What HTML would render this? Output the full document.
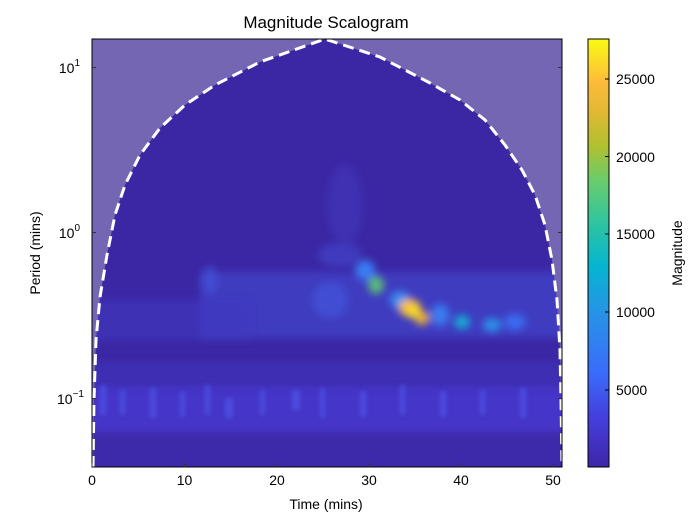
<!DOCTYPE html>
<html><head><meta charset="utf-8"><style>
html,body{margin:0;padding:0;background:#fff;}
svg{display:block;font-family:"Liberation Sans","DejaVu Sans",sans-serif;}
</style></head><body>
<svg width="700" height="525" viewBox="0 0 700 525" xmlns="http://www.w3.org/2000/svg">
<defs>
<linearGradient id="parula" x1="0" y1="1" x2="0" y2="0">
<stop offset="0" stop-color="#3e26a8"/>
<stop offset="0.12" stop-color="#4440df"/>
<stop offset="0.22" stop-color="#3a6cfb"/>
<stop offset="0.35" stop-color="#2990e8"/>
<stop offset="0.47" stop-color="#05b5d0"/>
<stop offset="0.57" stop-color="#2fc4a0"/>
<stop offset="0.67" stop-color="#6acc6a"/>
<stop offset="0.75" stop-color="#b0c030"/>
<stop offset="0.83" stop-color="#e2b833"/>
<stop offset="0.9" stop-color="#fdbb3a"/>
<stop offset="1" stop-color="#f9fb14"/>
</linearGradient>
<filter id="bl" x="-50%" y="-50%" width="200%" height="200%"><feGaussianBlur stdDeviation="4"/></filter>
<filter id="bl2" x="-50%" y="-50%" width="200%" height="200%"><feGaussianBlur stdDeviation="2"/></filter>
<clipPath id="pc"><rect x="92" y="39" width="470" height="428"/></clipPath>
</defs>
<text x="326" y="28" font-size="17" text-anchor="middle" fill="#000">Magnitude Scalogram</text>
<g clip-path="url(#pc)">
<rect x="92" y="39" width="470" height="428" fill="#3b27a4"/>
<rect x="60" y="380" width="540" height="55" fill="#4436c8" filter="url(#bl)"/>
<rect x="60" y="362" width="540" height="25" fill="#3e2db4" filter="url(#bl)"/>
<rect x="60" y="435" width="540" height="40" fill="#3c2aab" filter="url(#bl)"/>
<g filter="url(#bl2)" fill="#4d56e8" opacity="0.7">
<rect x="100" y="385" width="6" height="30"/><rect x="120" y="390" width="5" height="25"/>
<rect x="150" y="388" width="6" height="30"/><rect x="180" y="392" width="5" height="25"/>
<rect x="205" y="385" width="5" height="30"/><rect x="225" y="398" width="8" height="20"/>
<rect x="260" y="390" width="5" height="25"/><rect x="292" y="390" width="8" height="20"/>
<rect x="320" y="388" width="5" height="30"/><rect x="360" y="392" width="6" height="25"/>
<rect x="400" y="385" width="5" height="30"/><rect x="440" y="392" width="6" height="25"/>
<rect x="480" y="390" width="5" height="25"/><rect x="520" y="388" width="6" height="30"/>
</g>
<rect x="200" y="272" width="380" height="66" fill="#4344cc" filter="url(#bl)" opacity="0.7"/>
<rect x="80" y="300" width="170" height="40" fill="#4138c0" filter="url(#bl)" opacity="0.6"/>
<ellipse cx="345" cy="205" rx="18" ry="40" fill="#4540c8" filter="url(#bl)" opacity="0.4"/>
<ellipse cx="340" cy="255" rx="22" ry="12" fill="#4550d8" filter="url(#bl)" opacity="0.5"/>
<g filter="url(#bl)">
<ellipse cx="365" cy="270" rx="10" ry="10" fill="#3a7cf4"/>
<ellipse cx="376" cy="285" rx="8" ry="9" fill="#5cb87a"/>
<ellipse cx="400" cy="300" rx="10" ry="9" fill="#3a8af0"/>
<ellipse cx="410" cy="308" rx="11" ry="9" fill="#f7c03a"/>
<ellipse cx="415" cy="313" rx="6" ry="6" fill="#f9e81e"/>
<ellipse cx="422" cy="318" rx="7" ry="7" fill="#e8b030"/>
<ellipse cx="440" cy="315" rx="9" ry="11" fill="#3a7cf0"/>
<ellipse cx="462" cy="322" rx="8" ry="7" fill="#18a8d4"/>
<ellipse cx="492" cy="325" rx="9" ry="7" fill="#2a90e8"/>
<ellipse cx="515" cy="322" rx="11" ry="8" fill="#3a6cf0"/>
<ellipse cx="330" cy="300" rx="18" ry="18" fill="#4460e8" opacity="0.5"/>
<ellipse cx="210" cy="280" rx="7" ry="14" fill="#4458e0" opacity="0.6"/>
</g>
<path d="M92,39 L92,467 L93,467 L94,400 L96,340 L100,297 L107,255 L115,215 L125,185 L140,155 L160,128 L185,105 L215,85 L260,62 L325,39 Z" fill="#7566b3"/>
<path d="M325,39 L380,57 L430,83 L460,100 L485,120 L505,145 L522,170 L535,195 L545,225 L552,260 L557,300 L560,350 L561,400 L562,467 L562,39 Z" fill="#7566b3"/>
<path d="M93,467 L94,400 L96,340 L100,297 L107,255 L115,215 L125,185 L140,155 L160,128 L185,105 L215,85 L260,62 L325,39 L380,57 L430,83 L460,100 L485,120 L505,145 L522,170 L535,195 L545,225 L552,260 L557,300 L560,350 L561,400 L562,467" fill="none" stroke="#fff" stroke-width="3" stroke-dasharray="11,6"/>
</g>
<rect x="92" y="39" width="470" height="428" fill="none" stroke="#000" stroke-width="1"/>
<g stroke="#333" stroke-width="1">
<line x1="92" y1="467" x2="92" y2="463"/><line x1="184.5" y1="467" x2="184.5" y2="463"/><line x1="277" y1="467" x2="277" y2="463"/><line x1="369" y1="467" x2="369" y2="463"/><line x1="461" y1="467" x2="461" y2="463"/><line x1="553" y1="467" x2="553" y2="463"/>
<line x1="92" y1="67.5" x2="96" y2="67.5"/><line x1="92" y1="232.5" x2="96" y2="232.5"/><line x1="92" y1="398.5" x2="96" y2="398.5"/>
<line x1="562" y1="67.5" x2="558" y2="67.5"/><line x1="562" y1="232.5" x2="558" y2="232.5"/><line x1="562" y1="398.5" x2="558" y2="398.5"/>
</g>
<g font-size="14" fill="#000" text-anchor="middle">
<text x="92" y="485">0</text><text x="184.5" y="485">10</text><text x="277" y="485">20</text><text x="369" y="485">30</text><text x="461" y="485">40</text><text x="553" y="485">50</text>
<text x="326" y="509">Time (mins)</text>
</g>
<g font-size="14" fill="#000" text-anchor="end">
<text x="80" y="73">10<tspan font-size="10" dy="-7">1</tspan></text>
<text x="80" y="238">10<tspan font-size="10" dy="-7">0</tspan></text>
<text x="84" y="404">10<tspan font-size="10" dy="-7">−1</tspan></text>
</g>
<text transform="translate(40,253) rotate(-90)" font-size="14" text-anchor="middle">Period (mins)</text>
<rect x="588" y="39" width="21" height="428" fill="url(#parula)" stroke="#000" stroke-width="1"/>
<g stroke="#000"><line x1="605" y1="79" x2="609" y2="79"/><line x1="605" y1="156.5" x2="609" y2="156.5"/><line x1="605" y1="234" x2="609" y2="234"/><line x1="605" y1="312" x2="609" y2="312"/><line x1="605" y1="390" x2="609" y2="390"/></g>
<g font-size="14" fill="#000">
<text x="616" y="84">25000</text><text x="616" y="162">20000</text><text x="616" y="239">15000</text><text x="616" y="317">10000</text><text x="616" y="395">5000</text>
</g>
<text transform="translate(682,253) rotate(-90)" font-size="14" text-anchor="middle">Magnitude</text>
</svg>
</body></html>
